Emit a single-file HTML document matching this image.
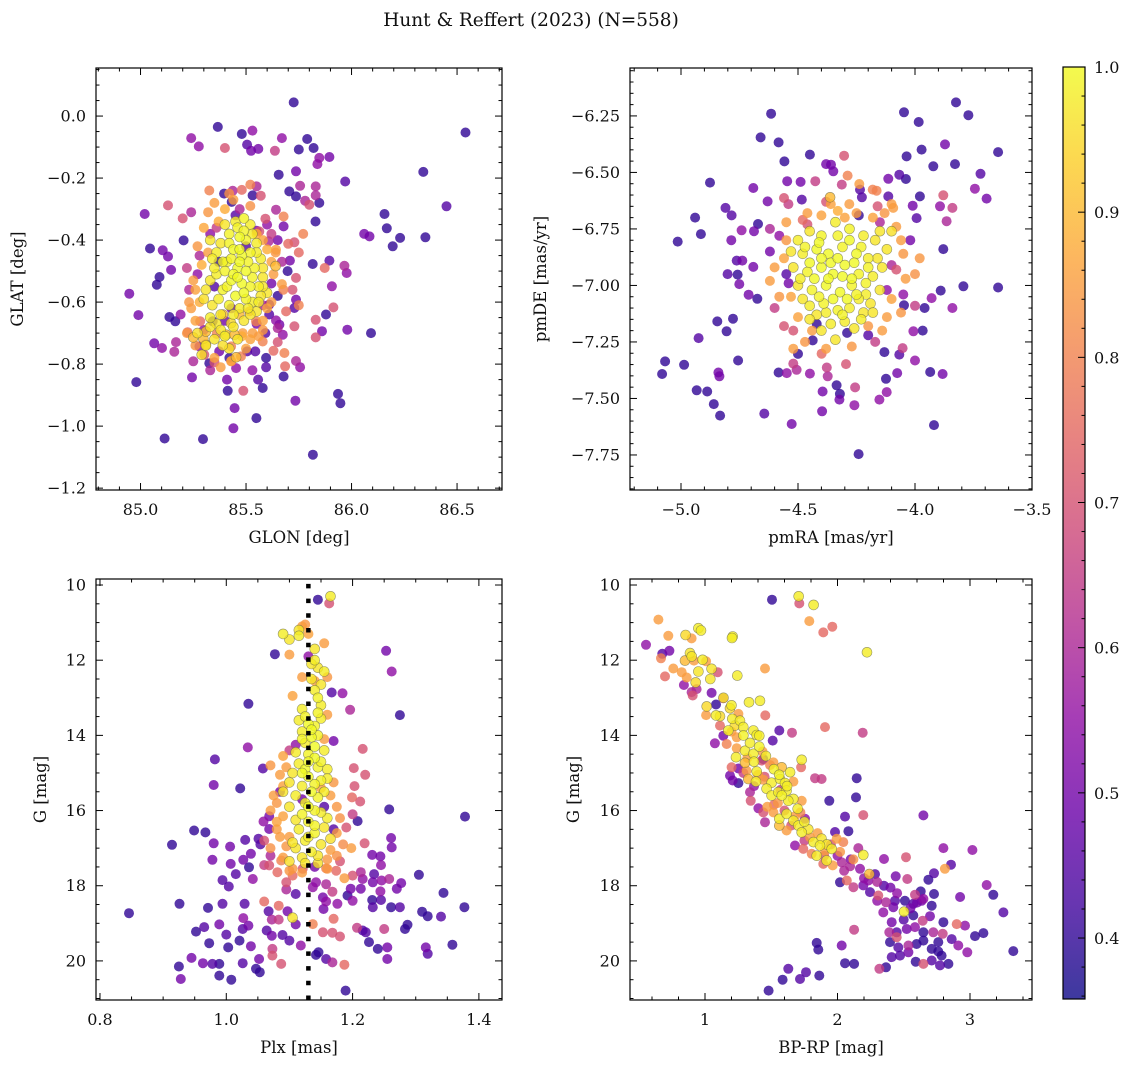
<!DOCTYPE html>
<html><head><meta charset="utf-8"><title>Hunt & Reffert (2023)</title>
<style>
html,body{margin:0;padding:0;background:#fff;}
svg{display:block;font-family:"DejaVu Serif","Liberation Serif",serif;}
</style></head>
<body>
<svg id="fig" width="1136" height="1067" viewBox="0 0 1136 1067" xmlns="http://www.w3.org/2000/svg">
<text x="531" y="26" font-size="18.5" text-anchor="middle" fill="#111">Hunt &amp; Reffert (2023) (N=558)</text>
</svg>
<script>
// ---------- DATA: [x, y, membership probability] ----------
const glonGlatStars = [
[85.726,0.044,.4],[85.366,-0.035,.4],[85.48,-0.058,.4],[85.53,-0.047,.55],[85.24,-0.071,.55],[85.276,-0.098,.55],[85.40,-0.103,.7],
[85.505,-0.092,.45],[85.524,-0.112,.5],[85.558,-0.106,.5],[85.637,-0.112,.65],[85.67,-0.071,.55],[85.75,-0.108,.4],[85.79,-0.074,.4],
[85.82,-0.103,.4],[85.847,-0.135,.55],[85.895,-0.132,.5],[85.838,-0.155,.55],[85.737,-0.178,.5],[85.655,-0.189,.4],[85.97,-0.211,.45],
[86.54,-0.053,.4],[86.34,-0.18,.4],[86.45,-0.291,.45],[86.156,-0.316,.4],[86.167,-0.362,.4],[86.06,-0.38,.5],[86.085,-0.388,.5],
[86.195,-0.42,.4],[86.23,-0.393,.4],[86.35,-0.391,.4],[85.02,-0.316,.5],[85.13,-0.288,.7],[85.045,-0.427,.4],[85.105,-0.433,.5],
[85.13,-0.453,.5],[84.947,-0.573,.5],[84.99,-0.642,.5],[85.09,-0.519,.4],[85.077,-0.544,.4],[85.145,-0.496,.5],[84.98,-0.858,.4],
[85.065,-0.733,.5],[85.102,-0.748,.55],[85.168,-0.729,.6],[85.16,-0.76,.6],[85.137,-0.648,.4],[85.165,-0.662,.4],[85.114,-1.04,.4],
[85.296,-1.042,.4],[85.44,-1.007,.5],[85.446,-0.942,.5],[85.549,-0.974,.4],[85.413,-0.886,.4],[85.487,-0.886,.7],[85.579,-0.877,.4],
[85.557,-0.85,.45],[85.678,-0.84,.4],[85.734,-0.918,.5],[85.817,-1.092,.4],[85.936,-0.896,.4],[85.947,-0.926,.4],[85.244,-0.843,.5],
[85.25,-0.791,.6],[86.092,-0.70,.4],[85.98,-0.689,.5],[85.86,-0.694,.5],[85.879,-0.64,.4],[85.914,-0.617,.7],[85.83,-0.714,.7],
[85.83,-0.657,.7],[85.966,-0.483,.6],[85.977,-0.506,.55],[85.895,-0.466,.45],[85.907,-0.549,.55],[85.873,-0.49,.75],[85.816,-0.477,.4],
[85.829,-0.34,.4],[85.847,-0.28,.4],[85.78,-0.273,.6],[85.80,-0.286,.7],[85.705,-0.243,.4],[85.737,-0.259,.4],[85.756,-0.225,.6],
[85.83,-0.227,.6],[85.83,-0.256,.6],[85.642,-0.302,.6],[85.531,-0.256,.4],[85.57,-0.257,.7],[85.55,-0.227,.6],[85.437,-0.241,.6],
[85.48,-0.238,.75],[85.326,-0.24,.8],[85.52,-0.221,.8],[85.396,-0.25,.4],[85.432,-0.277,.4],[85.204,-0.401,.4],[85.2,-0.33,.7],
[85.24,-0.31,.6],[85.678,-0.324,.8],[85.592,-0.331,.7],[85.678,-0.356,.5],[85.771,-0.38,.8],[85.729,-0.407,.7],[85.70,-0.412,.75],
[85.75,-0.44,.75],[85.708,-0.466,.5],[85.737,-0.522,.7],[85.697,-0.50,.4],[85.72,-0.56,.7],[85.677,-0.56,.8],[85.67,-0.542,.85],
[85.64,-0.484,.9],[85.642,-0.431,.85],[85.607,-0.404,.6],[85.563,-0.372,.7],[85.737,-0.592,.5],[85.729,-0.619,.45],[85.75,-0.61,.8],
[85.69,-0.63,.75],[85.642,-0.659,.55],[85.658,-0.673,.5],[85.674,-0.705,.55],[85.61,-0.608,.45],[85.61,-0.64,.45],[85.65,-0.684,.6],
[85.729,-0.678,.7],[85.592,-0.70,.45],[85.579,-0.727,.8],[85.65,-0.729,.7],[85.682,-0.764,.8],[85.685,-0.807,.75],[85.737,-0.79,.6],
[85.756,-0.81,.55],[85.595,-0.78,.4],[85.595,-0.81,.45],[85.63,-0.757,.75],[85.505,-0.759,.45],[85.544,-0.759,.45],[85.453,-0.813,.55],
[85.453,-0.778,.9],[85.429,-0.791,.8],[85.476,-0.775,.8],[85.421,-0.78,.4],[85.429,-0.743,.8],[85.35,-0.794,.7],[85.326,-0.797,.4],
[85.302,-0.77,.7],[85.31,-0.737,.9],[85.279,-0.743,.55],[85.373,-0.759,.5],[85.223,-0.697,.75],[85.25,-0.714,.9],[85.298,-0.718,.9],
[85.31,-0.695,.9],[85.361,-0.703,.8],[85.405,-0.705,.9],[85.445,-0.705,.9],[85.484,-0.70,.85],[85.531,-0.70,.85],[85.283,-0.662,.75],
[85.342,-0.662,.4],[85.39,-0.64,.9],[85.429,-0.668,.95],[85.468,-0.64,.9],[85.516,-0.63,.8],[85.547,-0.662,.8],
[85.45,-0.34,.98],[85.49,-0.33,.99],[85.52,-0.35,.98],[85.42,-0.38,.99],[85.47,-0.39,1],[85.50,-0.40,.99],[85.55,-0.41,.98],[85.38,-0.41,.97],
[85.33,-0.40,.97],[85.44,-0.43,1],[85.48,-0.45,1],[85.52,-0.44,.99],[85.57,-0.46,.98],[85.41,-0.47,.99],[85.36,-0.44,.98],[85.46,-0.49,1],
[85.50,-0.50,1],[85.54,-0.49,.99],[85.58,-0.52,.97],[85.40,-0.50,.99],[85.36,-0.51,.98],[85.33,-0.53,.97],[85.43,-0.53,1],[85.48,-0.54,1],
[85.52,-0.55,.99],[85.56,-0.55,.98],[85.60,-0.57,.97],[85.39,-0.56,.99],[85.45,-0.58,1],[85.50,-0.59,.99],[85.42,-0.61,.99],[85.47,-0.62,.98],
[85.38,-0.64,.97],[85.53,-0.60,.98],[85.36,-0.67,.97],[85.33,-0.65,.98],[85.49,-0.66,.97],[85.40,-0.71,.98],[85.44,-0.68,.97],[85.35,-0.72,.97],
[85.31,-0.74,.97],[85.42,-0.75,.96],[85.29,-0.77,.96],[85.27,-0.70,.96],[85.55,-0.63,.97],[85.57,-0.58,.97],[85.46,-0.36,.99],[85.53,-0.38,.98],
[85.39,-0.47,.99],[85.44,-0.51,1],[85.30,-0.59,.96],[85.34,-0.61,.97],[85.58,-0.49,.97],
[85.43,-0.46,.99],[85.47,-0.47,1],[85.51,-0.47,.99],[85.46,-0.52,1],[85.41,-0.55,.99],[85.53,-0.52,.99],[85.49,-0.57,1],[85.37,-0.59,.98],
[85.56,-0.60,.98],[85.44,-0.64,.98],[85.52,-0.64,.97],[85.38,-0.69,.97],[85.46,-0.72,.97],[85.34,-0.46,.98],[85.42,-0.41,.99],[85.49,-0.37,.99],
[85.40,-0.35,.97],[85.55,-0.44,.98],[85.31,-0.56,.97],[85.47,-0.43,1],[85.51,-0.62,.98],[85.33,-0.68,.97],[85.39,-0.74,.96],[85.58,-0.55,.97],[85.35,-0.49,.98],
[85.35,-0.28,.85],[85.40,-0.30,.88],[85.44,-0.27,.85],[85.30,-0.36,.87],[85.29,-0.48,.88],[85.25,-0.53,.85],[85.26,-0.56,.86],[85.28,-0.60,.88],
[85.24,-0.62,.85],[85.60,-0.43,.88],[85.62,-0.47,.86],[85.63,-0.51,.85],[85.60,-0.62,.87],[85.58,-0.66,.86],[85.48,-0.71,.88],[85.52,-0.72,.86],
[85.43,-0.79,.87],[85.35,-0.78,.86],[85.22,-0.70,.84],[85.23,-0.60,.84],[85.55,-0.38,.87],[85.58,-0.40,.86],[85.32,-0.31,.84],[85.62,-0.60,.85],
[85.37,-0.34,.88],[85.27,-0.42,.84],[85.32,-0.44,.85],[85.58,-0.69,.84],[85.50,-0.75,.86],[85.38,-0.81,.85],[85.26,-0.74,.84],[85.64,-0.44,.84],
[85.52,-0.29,.83],[85.42,-0.25,.83],[85.26,-0.66,.86],[85.56,-0.71,.85],
[85.45,-0.32,.45],[85.55,-0.37,.5],[85.50,-0.42,.45],[85.37,-0.47,.4],[85.43,-0.62,.5],[85.55,-0.67,.5],[85.35,-0.55,.45],[85.28,-0.45,.6],
[85.62,-0.54,.5],[85.65,-0.58,.4],[85.40,-0.66,.5],[85.30,-0.69,.55],[85.27,-0.51,.55],[85.22,-0.49,.65],[85.33,-0.38,.55],[85.60,-0.35,.55],[85.65,-0.40,.5],
[85.47,-0.30,.6],[85.36,-0.36,.65],[85.62,-0.38,.65],[85.58,-0.61,.6],[85.23,-0.56,.6],[85.33,-0.82,.6],[85.53,-0.82,.55],[85.67,-0.47,.6],[85.19,-0.64,.55],[85.41,-0.85,.5]
];
const pmStars = [
[-4.615,-6.24,.4],[-4.66,-6.345,.4],[-4.583,-6.367,.4],[-4.449,-6.421,.4],[-4.558,-6.451,.4],[-4.876,-6.545,.4],[-4.94,-6.70,.4],
[-4.915,-6.773,.4],[-5.014,-6.806,.4],[-4.81,-6.657,.45],[-4.784,-6.69,.45],[-4.691,-6.569,.5],[-4.63,-6.628,.5],[-4.671,-6.728,.4],
[-4.741,-6.756,.55],[-4.688,-6.76,.5],[-4.785,-6.80,.5],[-4.762,-6.89,.45],[-4.738,-6.89,.5],[-4.691,-6.918,.5],[-4.801,-6.95,.45],
[-4.758,-6.952,.4],[-4.751,-6.994,.5],[-4.711,-7.041,.5],[-4.674,-7.059,.4],[-4.845,-7.159,.4],[-4.778,-7.147,.4],[-4.805,-7.203,.4],
[-4.925,-7.233,.45],[-4.756,-7.332,.4],[-5.068,-7.336,.4],[-4.987,-7.351,.4],[-5.081,-7.392,.4],[-4.84,-7.385,.5],[-4.836,-7.402,.5],
[-4.933,-7.464,.4],[-4.888,-7.469,.4],[-4.86,-7.525,.4],[-4.833,-7.576,.4],[-4.644,-7.567,.45],[-4.527,-7.613,.5],[-4.397,-7.557,.5],
[-4.321,-7.48,.4],[-4.323,-7.505,.5],[-4.395,-7.469,.5],[-4.259,-7.53,.55],[-4.241,-7.746,.4],[-4.256,-7.451,.65],[-4.295,-7.348,.7],
[-4.335,-7.442,.4],[-4.373,-7.402,.6],[-4.377,-7.363,.65],[-4.449,-7.39,.55],[-4.506,-7.373,.6],[-4.548,-7.388,.55],[-4.583,-7.385,.4],
[-4.52,-7.346,.65],[-4.5,-7.303,.4],[-4.399,-7.302,.75],[-4.437,-7.243,.4],[-4.124,-7.413,.4],[-4.076,-7.388,.5],[-4.121,-7.472,.55],
[-4.152,-7.505,.55],[-4.131,-7.295,.4],[-4.067,-7.306,.45],[-4.053,-7.277,.65],[-4.0,-7.332,.55],[-3.935,-7.383,.4],[-3.882,-7.392,.5],
[-3.919,-7.618,.4],[-4.007,-7.203,.55],[-3.967,-7.2,.4],[-3.959,-7.1,.4],[-4.047,-7.088,.4],[-3.84,-7.1,.55],[-3.793,-7.004,.4],
[-3.645,-7.009,.4],[-3.89,-7.023,.4],[-3.929,-7.056,.55],[-3.879,-6.839,.4],[-3.865,-6.716,.6],[-3.84,-6.657,.65],[-3.879,-6.601,.7],
[-3.893,-6.65,.55],[-3.744,-6.572,.55],[-3.694,-6.616,.5],[-3.72,-6.506,.45],[-3.979,-6.606,.4],[-3.993,-6.702,.45],[-4.01,-6.647,.5],
[-3.829,-6.463,.4],[-3.922,-6.473,.4],[-3.645,-6.41,.4],[-3.825,-6.19,.4],[-3.772,-6.247,.4],[-4.047,-6.234,.4],[-3.984,-6.277,.4],
[-3.972,-6.399,.4],[-4.036,-6.429,.4],[-3.872,-6.376,.5],[-4.067,-6.51,.45],[-4.039,-6.529,.4],[-4.114,-6.528,.5],[-4.303,-6.426,.7],
[-4.288,-6.514,.8],[-4.349,-6.495,.5],[-4.38,-6.463,.5],[-4.359,-6.466,.5],[-4.426,-6.539,.65],[-4.489,-6.542,.5],[-4.546,-6.539,.5],
[-4.484,-6.62,.45],[-4.56,-6.613,.7],[-4.541,-6.64,.65],[-4.313,-6.554,.65],[-4.238,-6.551,.85],[-4.181,-6.576,.8],[-4.164,-6.581,.8],
[-4.235,-6.576,.45],[-4.363,-6.61,.9],[-4.281,-6.64,.85],[-4.227,-6.61,.45],[-4.114,-6.606,.45],[-4.1,-6.64,.85],[-4.093,-6.657,.85],
[-4.50,-6.80,.98],[-4.45,-6.76,.97],[-4.40,-6.78,.99],[-4.34,-6.72,.98],[-4.28,-6.75,.99],[-4.22,-6.78,.98],[-4.17,-6.80,.97],[-4.12,-6.84,.97],
[-4.48,-6.86,.98],[-4.42,-6.84,1],[-4.37,-6.86,1],[-4.31,-6.83,.99],[-4.25,-6.86,1],[-4.20,-6.88,.98],[-4.52,-6.92,.97],[-4.46,-6.94,.99],
[-4.40,-6.92,1],[-4.35,-6.95,1],[-4.30,-6.91,1],[-4.24,-6.95,.99],[-4.18,-6.96,.98],[-4.14,-6.92,.97],[-4.50,-7.00,.97],[-4.44,-7.02,.99],
[-4.38,-7.00,1],[-4.32,-7.03,1],[-4.27,-7.00,.99],[-4.21,-7.04,.98],[-4.15,-7.02,.97],[-4.45,-7.09,.98],[-4.39,-7.08,.99],[-4.33,-7.11,.99],
[-4.28,-7.10,.98],[-4.22,-7.12,.97],[-4.36,-7.17,.98],[-4.30,-7.16,.98],[-4.26,-7.19,.97],[-4.34,-7.24,.97],[-4.42,-7.13,.97],[-4.48,-7.06,.97],
[-4.10,-6.76,.96],[-4.36,-6.90,1],[-4.26,-6.90,1],[-4.43,-6.97,1],[-4.19,-7.08,.97],[-4.31,-6.96,1],[-4.40,-6.88,1],[-4.24,-7.06,.98],
[-4.47,-6.83,.99],[-4.41,-6.81,1],[-4.28,-6.80,1],[-4.23,-6.83,.99],[-4.33,-6.88,1],[-4.49,-6.97,.98],[-4.37,-6.97,1],[-4.27,-6.97,1],
[-4.21,-6.99,.99],[-4.16,-6.88,.97],[-4.41,-7.05,.99],[-4.35,-7.06,1],[-4.25,-7.04,.99],[-4.18,-7.12,.97],[-4.31,-7.13,.99],[-4.38,-7.12,.98],
[-4.40,-7.20,.97],[-4.33,-6.78,.99],[-4.15,-6.76,.97],[-4.53,-6.85,.97],[-4.45,-6.90,1],[-4.29,-7.06,1],[-4.23,-7.15,.98],[-4.45,-7.15,.97],[-4.20,-6.92,.99],
[-4.55,-6.72,.85],[-4.40,-6.69,.86],[-4.33,-6.67,.88],[-4.18,-6.70,.86],[-4.08,-6.74,.85],[-4.05,-6.86,.84],[-4.04,-6.97,.85],[-4.56,-6.88,.86],
[-4.58,-7.05,.84],[-4.62,-6.98,.85],[-4.50,-7.14,.86],[-4.44,-7.20,.85],[-4.10,-7.06,.86],[-4.12,-7.14,.85],[-4.20,-7.18,.84],[-4.52,-7.28,.85],
[-4.27,-7.27,.84],[-3.98,-6.88,.84],[-4.36,-6.64,.86],[-4.46,-6.68,.85],
[-4.30,-6.70,.86],[-4.25,-6.68,.85],[-4.13,-6.68,.84],[-4.06,-6.80,.85],[-4.55,-6.80,.84],[-4.60,-6.92,.85],[-4.53,-7.05,.86],[-4.47,-7.25,.84],
[-4.38,-7.28,.85],[-4.14,-7.20,.85],[-4.06,-7.12,.84],[-4.00,-6.95,.83],
[-4.58,-6.78,.55],[-4.62,-6.85,.5],[-4.55,-6.95,.45],[-4.10,-6.91,.6],[-4.05,-7.04,.55],[-4.00,-7.09,.65],[-4.15,-6.72,.6],[-4.24,-6.69,.4],
[-4.42,-7.17,.4],[-4.20,-7.22,.45],[-4.56,-7.18,.7],[-4.46,-6.73,.7],[-4.29,-7.21,.4],[-4.02,-6.80,.5],
[-4.38,-6.63,.7],[-4.48,-6.71,.75],[-4.16,-6.65,.7],[-4.08,-6.93,.7],[-4.60,-7.10,.65],[-4.17,-7.25,.65],[-4.52,-7.20,.7],[-4.62,-6.75,.6],[-4.12,-7.02,.55],[-4.54,-6.99,.5]
];
const plxGStars = [
[1.145,10.39,.4],[1.163,10.49,.7],[1.165,10.3,.98],[1.077,11.84,.4],[1.253,11.75,.5],[1.262,12.30,.55],[1.275,13.46,.4],[1.167,12.86,.45],
[1.184,12.88,.55],[1.196,13.32,.6],[1.035,13.16,.4],[1.034,14.32,.55],[0.982,14.64,.45],[0.98,15.32,.5],[1.022,15.41,.4],[1.058,14.88,.45],
[1.216,14.36,.7],[1.202,14.87,.7],[1.22,15.05,.7],[1.203,15.35,.7],[1.212,15.76,.7],[1.199,15.65,.75],[1.258,15.97,.4],[1.378,16.16,.4],
[1.208,16.28,.4],[0.914,16.91,.4],[0.949,16.53,.4],[0.967,16.58,.4],[0.98,16.87,.5],[0.978,17.31,.5],[1.006,16.96,.5],[1.03,16.78,.45],
[1.051,16.75,.45],[1.054,16.9,.45],[1.015,17.69,.45],[0.994,17.85,.45],[1.004,18.02,.45],[1.039,17.15,.5],[1.027,17.31,.5],[1.036,17.51,.4],
[1.007,17.42,.5],[1.042,17.82,.55],[1.068,16.15,.5],[1.059,16.29,.55],[1.068,16.49,.5],[0.926,18.48,.4],[0.846,18.73,.4],[0.971,18.59,.4],
[0.994,18.48,.45],[1.029,18.48,.45],[0.952,19.22,.4],[0.965,19.1,.45],[0.989,19.03,.5],[1.0,19.3,.45],[0.973,19.53,.4],[1.003,19.64,.4],
[1.021,19.46,.4],[1.039,19.61,.5],[0.945,19.92,.5],[0.963,20.06,.5],[0.978,20.08,.45],[0.989,20.08,.4],[0.925,20.15,.4],[0.928,20.48,.5],
[0.989,20.39,.4],[1.008,20.5,.4],[1.026,20.06,.45],[1.047,20.21,.4],[1.053,20.3,.4],[1.052,19.95,.5],[1.064,19.19,.45],[1.072,19.33,.5],
[1.089,19.31,.45],[1.1,19.46,.45],[1.11,19.03,.5],[1.073,19.68,.65],[1.087,20.08,.7],[1.118,19.59,.55],[1.073,19.86,.7],[1.027,18.86,.55],
[1.035,19.06,.5],[1.026,19.15,.45],[1.072,18.9,.6],[1.083,18.9,.65],[1.067,18.68,.45],[1.097,18.68,.5],[1.06,18.42,.75],[1.083,18.53,.75],
[1.142,19.84,.4],[1.146,19.77,.4],[1.158,19.95,.45],[1.168,20.04,.6],[1.187,20.1,.75],[1.189,20.79,.4],[1.137,19.02,.8],[1.153,19.24,.7],
[1.168,19.25,.7],[1.18,19.35,.7],[1.17,18.88,.75],[1.207,19.12,.65],[1.216,19.19,.45],[1.221,19.24,.45],[1.25,19.15,.65],[1.226,19.5,.4],
[1.24,19.68,.4],[1.255,19.64,.5],[1.255,19.95,.5],[1.283,19.15,.4],[1.287,19.04,.4],[1.31,18.69,.4],[1.319,18.81,.4],[1.34,18.82,.45],
[1.316,19.64,.5],[1.319,19.81,.45],[1.358,19.57,.4],[1.377,18.57,.4],[1.344,18.19,.4],[1.305,17.71,.4],[1.258,17.82,.6],[1.277,17.93,.5],
[1.27,18.08,.5],[1.231,18.38,.4],[1.245,18.38,.45],[1.261,18.57,.4],[1.275,18.57,.45],[1.232,18.57,.45],[1.192,18.26,.4],[1.176,18.48,.55],
[1.158,18.42,.55],[1.154,18.62,.5],[1.197,18.08,.5],[1.213,18.08,.5],[1.244,18.15,.55],[1.216,17.82,.55],[1.232,17.91,.5],[1.234,17.69,.45],
[1.246,17.86,.55],[1.245,17.45,.55],[1.231,17.18,.5],[1.244,17.22,.5],[1.261,16.73,.5],[1.262,16.98,.5],[1.219,16.87,.7],[1.198,17.0,.85],
[1.158,17.54,.8],[1.174,17.6,.75],[1.187,17.8,.85],[1.2,17.73,.7],[1.213,17.64,.6],[1.142,17.91,.55],[1.158,17.96,.6],[1.168,18.16,.65],
[1.153,18.31,.5],[1.137,18.04,.55],[1.11,18.22,.45],[1.095,17.91,.7],[1.081,17.64,.75],[1.068,17.46,.7],[1.087,17.33,.8],[1.105,17.73,.75],[1.121,17.55,.7],
[1.09,11.3,.98],[1.10,11.45,.97],[1.115,11.35,.98],[1.115,11.2,.97],[1.14,12.0,.98],[1.145,12.2,.97],[1.155,12.3,.98],[1.135,12.5,.97],
[1.14,12.8,.98],[1.145,13.0,.99],[1.15,13.2,.98],[1.125,13.5,.99],[1.115,13.6,.98],[1.13,13.7,1],[1.14,13.75,.99],[1.12,13.9,.98],
[1.135,14.05,1],[1.145,14.0,.99],[1.125,14.2,.98],[1.13,14.5,.99],[1.14,14.6,1],[1.115,14.75,.98],[1.125,14.9,1],[1.145,14.85,.99],
[1.16,14.9,.98],[1.105,15.0,.97],[1.13,15.1,1],[1.15,15.2,.99],[1.12,15.35,.98],[1.135,15.5,1],[1.11,15.6,.98],[1.145,15.65,.99],
[1.125,15.8,.99],[1.1,15.9,.97],[1.14,16.0,.99],[1.16,16.2,.98],[1.13,16.3,.99],[1.115,16.5,.98],[1.14,16.6,.99],[1.125,16.8,.98],
[1.15,16.9,.97],[1.11,17.0,.97],[1.135,17.1,.98],[1.12,17.25,.97],[1.1,17.35,.96],[1.145,17.4,.96],[1.105,18.85,.97],[1.14,11.7,.97],
[1.155,14.4,.98],[1.09,15.5,.97],[1.11,16.25,.97],[1.165,16.75,.96],
[1.12,13.3,.98],[1.145,13.4,.99],[1.135,13.85,1],[1.12,14.1,.99],[1.14,14.3,1],[1.13,14.7,1],[1.15,14.7,.99],[1.12,15.0,1],[1.14,15.3,.99],
[1.155,15.5,.98],[1.13,15.9,1],[1.15,16.05,.98],[1.12,16.1,.99],[1.14,16.4,.99],[1.13,16.7,.98],[1.145,17.2,.97],[1.125,17.4,.97],[1.105,16.85,.97],
[1.16,15.15,.98],[1.11,14.45,.98],[1.15,13.55,.98],[1.135,12.1,.97],[1.15,12.65,.97],[1.1,15.25,.97],[1.155,16.45,.97],
[1.12,11.1,.85],[1.10,11.85,.85],[1.125,11.05,.84],[1.13,11.3,.86],[1.155,11.55,.85],[1.14,12.55,.86],[1.12,12.45,.85],[1.16,12.45,.84],
[1.105,12.95,.86],[1.16,13.45,.85],[1.09,14.55,.86],[1.155,14.1,.85],[1.07,14.8,.84],[1.085,15.05,.85],[1.09,15.35,.86],[1.08,15.8,.84],
[1.07,16.0,.85],[1.09,16.15,.86],[1.165,15.6,.85],[1.175,15.9,.84],[1.175,16.6,.85],[1.08,16.5,.85],[1.095,16.95,.84],[1.09,17.25,.85],
[1.16,17.3,.84],[1.165,17.05,.85],[1.08,16.3,.86],[1.105,17.55,.84],[1.12,17.65,.85],[1.15,15.4,.86],[1.1,16.7,.85],
[1.075,15.6,.85],[1.17,15.25,.84],[1.18,16.2,.83],[1.085,16.7,.85],[1.07,17.0,.83],[1.16,17.55,.84],[1.175,17.2,.83],[1.1,17.6,.84],[1.185,16.9,.82],[1.095,14.85,.85],
[1.13,11.9,.55],[1.17,14.15,.5],[1.11,14.25,.55],[1.10,14.4,.65],[1.085,15.5,.5],[1.12,15.7,.5],[1.17,16.5,.45],[1.155,15.9,.45],[1.14,17.5,.5],[1.07,17.2,.6],
[1.06,16.8,.7],[1.19,16.45,.7],[1.06,17.45,.65],[1.18,17.35,.7],[1.20,16.1,.65],[1.095,18.1,.6],[1.2,18.4,.55]
];
const cmdStars = [
[1.506,10.39,.4],[1.707,10.3,.98],[1.712,10.49,.7],[1.82,10.53,.98],[1.787,10.96,.85],[1.893,11.26,.75],[1.961,11.11,.75],[2.223,11.79,.98],
[0.648,10.92,.85],[0.555,11.59,.55],[0.723,11.35,.85],[0.678,11.83,.45],[0.731,11.75,.5],[0.668,11.95,.8],[0.698,12.43,.75],[0.761,12.22,.85],
[0.854,11.33,.95],[0.899,11.42,.85],[0.95,11.15,.98],[0.97,11.21,.98],[0.887,11.81,.97],[0.849,12.01,.9],[0.917,12.01,.85],[0.982,11.99,.98],
[1.008,12.03,.85],[1.05,12.23,.97],[1.096,12.32,.7],[1.209,11.37,.98],[1.204,11.41,.98],[1.244,12.41,.98],[1.453,12.22,.85],[0.824,12.32,.85],
[0.862,12.46,.85],[0.93,12.59,.95],[0.841,12.66,.55],[0.899,12.85,.6],[0.907,12.94,.7],[0.937,12.77,.6],[1.05,12.87,.5],[1.138,13.01,.7],
[1.332,13.12,.98],[1.415,13.08,.98],[1.013,13.23,.95],[1.083,13.18,.4],[1.083,13.47,.98],[1.008,13.46,.85],[1.113,13.49,.95],[1.189,13.28,.95],
[1.206,13.56,.98],[1.252,13.43,.85],[1.264,13.61,.98],[1.226,13.74,.95],[1.113,13.74,.75],[1.176,13.87,.98],[1.138,14.01,.5],[1.075,14.21,.55],
[1.164,14.23,.8],[1.239,14.05,.85],[1.365,13.87,.98],[1.39,13.99,.98],[1.41,14.01,.98],[1.289,13.78,.98],[1.455,13.47,.75],[1.561,13.87,.45],
[1.511,14.14,.45],[1.657,13.93,.65],[1.906,13.78,.75],[2.19,13.93,.65],[1.239,14.34,.85],[1.302,14.41,.98],[1.365,14.49,.98],[1.435,14.43,.85],
[1.428,14.67,.7],[1.37,14.7,.98],[1.302,14.73,.9],[1.234,14.58,.98],[1.201,14.85,.75],[1.252,14.88,.5],[1.314,14.94,.85],[1.39,14.96,.98],
[1.44,14.63,.4],[1.491,14.79,.8],[1.516,14.72,.85],[1.579,14.85,.9],[1.642,14.98,.98],[1.73,14.65,.98],[1.725,14.85,.75],[1.189,15.07,.5],
[1.209,15.2,.5],[1.252,15.27,.4],[1.327,15.16,.9],[1.385,15.23,.98],[1.44,15.18,.85],[1.503,15.26,.98],[1.566,15.16,.98],[1.604,15.27,.98],
[1.667,15.23,.85],[1.465,15.42,.98],[1.503,15.6,.98],[1.553,15.51,.98],[1.616,15.47,.98],[1.667,15.69,.98],[1.73,15.74,.85],[1.629,15.74,.98],
[1.34,15.51,.6],[1.345,15.74,.7],[1.403,15.94,.55],[1.44,16.05,.7],[1.453,16.31,.6],[1.516,16.05,.85],[1.561,16.22,.98],[1.616,16.09,.98],
[1.561,16.4,.9],[1.616,16.53,.85],[1.667,16.27,.98],[1.705,16.4,.98],[1.755,16.22,.55],[1.73,16.58,.98],[1.793,16.71,.85],[1.818,16.84,.98],
[1.868,16.93,.98],[1.843,17.2,.98],[1.918,17.33,.98],[1.906,17.07,.85],[1.956,17.02,.98],[1.994,16.75,.85],[2.044,16.84,.8],[1.679,16.93,.55],
[1.742,17.02,.75],[1.805,17.15,.8],[1.893,17.42,.75],[1.964,17.46,.85],[2.032,17.38,.6],[2.095,17.48,.6],[2.17,17.55,.55],[2.24,17.69,.9],
[2.019,17.91,.4],[2.07,17.86,.75],[2.12,18.04,.65],[2.195,17.99,.5],[2.233,17.86,.55],[2.283,17.69,.45],[2.245,18.17,.45],[2.308,18.26,.7],
[2.366,18.44,.6],[2.421,18.57,.5],[1.83,15.14,.65],[1.88,15.16,.65],[1.938,15.74,.4],[2.145,15.14,.4],[2.14,15.65,.4],[2.195,16.12,.7],
[2.057,16.16,.45],[2.082,16.55,.4],[1.981,16.57,.45],[2.195,17.18,.98],[2.157,17.0,.6],[2.351,17.29,.55],[2.517,17.24,.7],[2.648,16.13,.5],
[2.799,17.0,.55],[3.018,17.05,.55],[2.857,17.44,.45],[2.811,17.55,.85],[2.728,17.67,.45],[2.686,17.84,.4],[2.439,17.75,.5],[2.527,17.82,.65],
[2.628,18.15,.4],[2.728,18.22,.4],[2.585,18.24,.65],[2.648,18.35,.55],[2.925,18.3,.5],[3.126,17.98,.55],[3.176,18.24,.4],[3.252,18.71,.45],
[3.327,19.74,.4],[2.434,18.4,.45],[2.509,18.4,.4],[2.572,18.48,.45],[2.635,18.4,.5],[2.711,18.53,.4],[2.502,18.69,.98],[2.572,18.79,.4],
[2.643,18.93,.65],[2.698,18.81,.5],[2.799,18.97,.4],[2.9,19.02,.75],[2.962,19.06,.55],[2.346,18.71,.55],[2.409,18.97,.5],[2.447,19.24,.45],
[2.522,19.15,.5],[2.585,19.1,.55],[2.648,19.24,.4],[2.723,19.24,.6],[2.794,19.28,.65],[2.862,19.42,.45],[3.038,19.34,.4],[3.101,19.26,.4],
[2.912,19.59,.55],[2.98,19.77,.55],[2.396,19.5,.4],[2.459,19.64,.45],[2.535,19.59,.6],[2.597,19.55,.4],[2.648,19.46,.4],[2.711,19.68,.4],
[2.761,19.5,.4],[2.786,19.86,.4],[2.837,20.08,.4],[2.774,20.12,.45],[2.711,19.99,.45],[2.648,20.08,.7],[2.59,20.02,.4],[2.535,19.77,.5],
[2.472,19.86,.45],[2.409,19.9,.45],[2.366,20.17,.4],[2.316,20.21,.65],[2.391,19.24,.6],[2.447,19.37,.7],[2.761,19.75,.4],[1.843,19.52,.4],
[1.855,19.7,.4],[2.032,19.59,.5],[2.057,20.06,.4],[2.125,20.08,.4],[1.863,20.39,.4],[1.762,20.3,.45],[1.717,20.48,.45],[1.629,20.21,.45],
[1.586,20.5,.4],[1.48,20.79,.4],[2.125,19.17,.65],[1.47,15.9,.85],[1.52,15.85,.75],[1.6,16.0,.7],[1.37,15.35,.55],[1.29,15.0,.65],
[2.0,17.2,.55],[2.1,17.3,.5],[2.3,17.9,.6],[2.45,18.2,.55],[2.55,18.6,.5],[2.35,18.0,.45],[1.95,16.9,.7],[1.72,16.05,.8],
[1.29,14.0,.99],[1.34,14.2,.98],[1.41,14.3,.99],[1.46,14.55,.98],[1.52,14.9,.99],[1.56,15.05,.99],[1.62,15.35,.98],[1.58,15.6,.99],
[1.70,15.95,.98],[1.75,16.3,.98],[1.78,16.5,.97],[1.88,16.75,.97],[1.92,16.9,.97],[1.2,13.2,.98],[1.14,13.0,.97],[1.04,12.5,.97],[0.95,12.3,.97],[0.9,11.9,.97],
[1.32,14.6,.85],[1.40,15.05,.84],[1.55,15.8,.84],[1.68,16.15,.85],[1.85,16.6,.85],[2.02,17.1,.84],[2.12,17.3,.83],[1.2,13.9,.85],
[1.45,15.1,.7],[1.57,15.45,.65],[1.65,16.4,.7],[1.75,16.8,.65],[1.9,17.2,.7],[2.05,17.6,.6],[2.2,17.8,.55],[2.4,18.05,.5],[2.6,18.45,.5],[2.5,18.9,.45],[2.3,18.4,.55]
];
const p1XTicks = [85.0,85.5,86.0,86.5];
const p1YTicks = [0.0,-0.2,-0.4,-0.6,-0.8,-1.0,-1.2];
const p2XTicks = [-5.0,-4.5,-4.0,-3.5];
const p2YTicks = [-6.25,-6.50,-6.75,-7.00,-7.25,-7.50,-7.75];
const p3XTicks = [0.8,1.0,1.2,1.4];
const gTicks = [10,12,14,16,18,20];
const p4XTicks = [1,2,3];
const cbTicks = [0.4,0.5,0.6,0.7,0.8,0.9,1.0];
const plxMean = [1.13];
const probRange = [0.358,1.0];

// ---------- RENDERING ----------
const NS="http://www.w3.org/2000/svg";
const svg=document.getElementById('fig');
function el(tag,attrs,parent){const e=document.createElementNS(NS,tag);for(const k in attrs)e.setAttribute(k,attrs[k]);(parent||svg).appendChild(e);return e;}
const plasma=[[13,8,135],[65,4,157],[106,0,168],[143,13,164],[177,42,144],[204,71,120],[225,100,98],[242,132,75],[252,166,54],[252,206,37],[240,249,33]];
function cmap(p){let t=(p-probRange[0])/(probRange[1]-probRange[0]);t=Math.max(0,Math.min(1,t))*10;const i=Math.min(9,Math.floor(t)),f=t-i;const a=plasma[i],b=plasma[i+1];return `rgb(${Math.round(a[0]+(b[0]-a[0])*f)},${Math.round(a[1]+(b[1]-a[1])*f)},${Math.round(a[2]+(b[2]-a[2])*f)})`;}
function fmtMinus(s){return s.replace('-','\u2212');}

function panel(cfg){
  const g=el('g',{});
  
  
  const {L,T,W,H}=cfg;
  const sx=v=>L+(v-cfg.xmin)/(cfg.xmax-cfg.xmin)*W;
  const sy=cfg.yinv? (v=>T+(v-cfg.ymin)/(cfg.ymax-cfg.ymin)*H) : (v=>T+H-(v-cfg.ymin)/(cfg.ymax-cfg.ymin)*H);
  const pts=cfg.data.slice().sort((a,b)=>a[2]-b[2]);
  const pg=el('g',{},g);
  
  
  for(const d of pts){
    const x=sx(d[0]),y=sy(d[1]);
    if(x<L-4||x>L+W+4||y<T-4||y>T+H+4)continue;
    const c=el('circle',{cx:x.toFixed(1),cy:y.toFixed(1),r:5,fill:cmap(d[2]),'fill-opacity':0.8},pg);
    if(d[2]>=0.9){c.setAttribute('stroke','#6b6b4a');c.setAttribute('stroke-width','0.6');c.setAttribute('stroke-opacity','0.7');}
    
    
  }
  if(cfg.vline){
    const vx=sx(cfg.vline[0]);
    const ln=el('line',{x1:vx,x2:vx,y1:T+H,y2:T,stroke:'#000','stroke-width':4.5,'stroke-dasharray':'4.5 10.2'},g);
    
    
  }
  const fr=el('rect',{x:L,y:T,width:W,height:H,fill:'none',stroke:'#000','stroke-width':1.2},g);
  
  
  const tg=el('g',{stroke:'#000','stroke-width':1},g);
  
  
  for(let v=Math.ceil(cfg.xmin/cfg.xminor-1e-9)*cfg.xminor;v<=cfg.xmax+1e-9;v+=cfg.xminor){
    const x=sx(v);const maj=cfg.xticks.some(t=>Math.abs(t-v)<1e-6);const len=maj?7:3.5;
    el('line',{x1:x,x2:x,y1:T+H,y2:T+H-len},tg);el('line',{x1:x,x2:x,y1:T,y2:T+len},tg);
  }
  const y0=Math.min(cfg.ymin,cfg.ymax),y1=Math.max(cfg.ymin,cfg.ymax);
  for(let v=Math.ceil(y0/cfg.yminor-1e-9)*cfg.yminor;v<=y1+1e-9;v+=cfg.yminor){
    const y=sy(v);const maj=cfg.yticks.some(t=>Math.abs(t-v)<1e-6);const len=maj?7:3.5;
    el('line',{x1:L,x2:L+len,y1:y,y2:y},tg);el('line',{x1:L+W,x2:L+W-len,y1:y,y2:y},tg);
  }
  for(const v of cfg.xticks){
    const t=el('text',{x:sx(v),y:T+H+25,'font-size':16,'text-anchor':'middle',fill:'#111'},g);
    t.textContent=fmtMinus(v.toFixed(cfg.xdec));
    
    
  }
  for(const v of cfg.yticks){
    const t=el('text',{x:L-10,y:sy(v)+5.5,'font-size':16,'text-anchor':'end',fill:'#111'},g);
    t.textContent=fmtMinus(v.toFixed(cfg.ydec));
    
    
  }
  const xl=el('text',{x:L+W/2,y:T+H+53,'font-size':16.5,'text-anchor':'middle',fill:'#111'},g);
  xl.textContent=cfg.xlabel;
  
  
  const yl=el('text',{x:0,y:0,'font-size':16.5,'text-anchor':'middle',fill:'#111',transform:`translate(${cfg.ylx},${T+H/2}) rotate(-90)`},g);
  yl.textContent=cfg.ylabel;
  
  
}

panel({name:'glon-glat-panel',L:96,T:68,W:406,H:422,xmin:84.789,xmax:86.713,ymin:-1.206,ymax:0.155,xticks:p1XTicks,yticks:p1YTicks,xminor:0.1,yminor:0.05,xdec:1,ydec:1,data:glonGlatStars,xlabel:'GLON [deg]',ylabel:'GLAT [deg]',ylx:23});
panel({name:'proper-motion-panel',L:630,T:68,W:402,H:422,xmin:-5.218,xmax:-3.5,ymin:-7.905,ymax:-6.038,xticks:p2XTicks,yticks:p2YTicks,xminor:0.1,yminor:0.05,xdec:1,ydec:2,data:pmStars,xlabel:'pmRA [mas/yr]',ylabel:'pmDE [mas/yr]',ylx:546});
panel({name:'parallax-g-panel',L:96,T:579,W:406,H:421,xmin:0.7937,xmax:1.4366,ymin:9.84,ymax:21.04,yinv:true,xticks:p3XTicks,yticks:gTicks,xminor:0.05,yminor:0.5,xdec:1,ydec:0,data:plxGStars,xlabel:'Plx [mas]',ylabel:'G [mag]',ylx:46,vline:plxMean});
panel({name:'cmd-panel',L:630,T:579,W:402,H:421,xmin:0.434,xmax:3.468,ymin:9.84,ymax:21.04,yinv:true,xticks:p4XTicks,yticks:gTicks,xminor:0.2,yminor:0.5,xdec:0,ydec:0,data:cmdStars,xlabel:'BP-RP [mag]',ylabel:'G [mag]',ylx:579});

(function(){
  const cg=el('g',{});
  
  
  const X=1063,W=22,T=67,B=999;
  const defs=el('defs',{},cg);
  const lg=el('linearGradient',{id:'cbgrad',x1:0,y1:1,x2:0,y2:0},defs);
  for(let i=0;i<=10;i++){el('stop',{offset:i/10,'stop-color':`rgb(${plasma[i].join(',')})`,'stop-opacity':0.8},lg);}
  const r=el('rect',{x:X,y:T,width:W,height:B-T,fill:'url(#cbgrad)',stroke:'#000','stroke-width':1.2},cg);
  
  
  const sy=v=>B-(v-probRange[0])/(probRange[1]-probRange[0])*(B-T);
  for(let v=0.36;v<=1.0001;v+=0.02){
    const maj=cbTicks.some(t=>Math.abs(t-v)<1e-6);const len=maj?7:3.5;
    el('line',{x1:X+W,x2:X+W-len,y1:sy(v),y2:sy(v),stroke:'#000','stroke-width':1},cg);
  }
  for(const v of cbTicks){
    const t=el('text',{x:1094,y:sy(v)+6,'font-size':16,fill:'#111'},cg);
    t.textContent=v.toFixed(1);
    
    
  }
})();
</script>
</body></html>
